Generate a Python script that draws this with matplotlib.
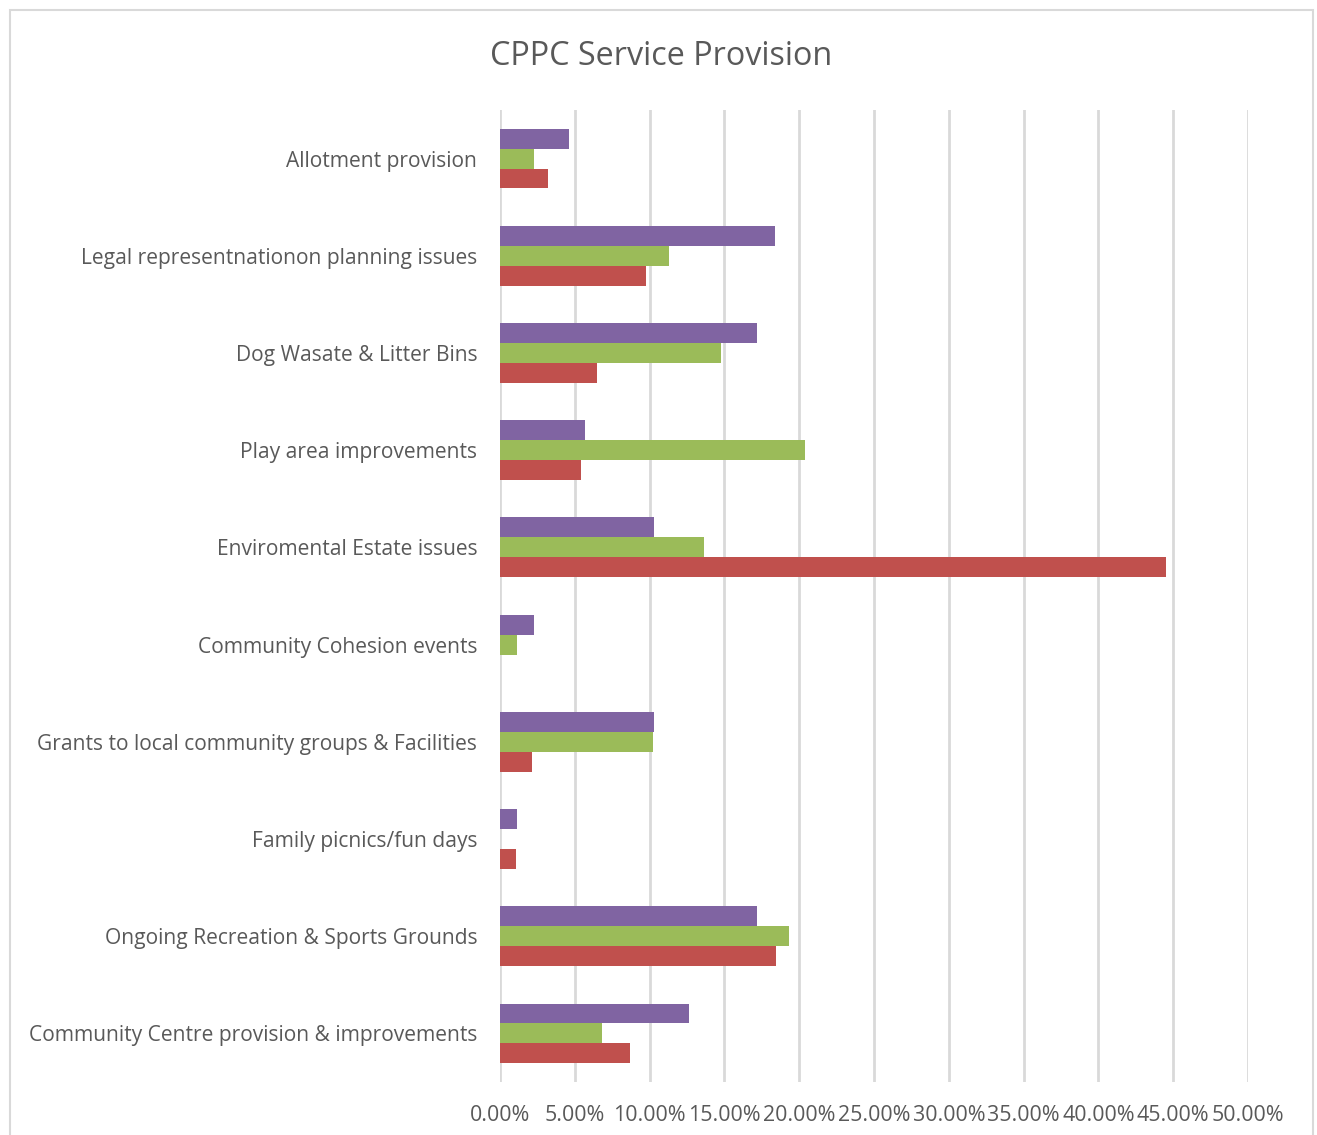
import matplotlib.pyplot as plt
import matplotlib.patches as mpatches
import numpy as np
from matplotlib.ticker import FuncFormatter, MultipleLocator

plt.rcParams['font.family'] = ['Open Sans', 'DejaVu Sans']

categories = [
    'Allotment provision',
    'Legal representnationon planning issues',
    'Dog Wasate & Litter Bins',
    'Play area improvements',
    'Enviromental Estate issues',
    'Community Cohesion events',
    'Grants to local community groups & Facilities',
    'Family picnics/fun days',
    'Ongoing Recreation & Sports Grounds',
    'Community Centre provision & improvements',
]

# share of responses per service, in percent
series_red = [3.2, 9.75, 6.5, 5.4, 44.5, 0.0, 2.15, 1.05, 18.45, 8.7]
series_green = [2.25, 11.3, 14.75, 20.4, 13.6, 1.1, 10.2, 0.0, 19.3, 6.8]
series_purple = [4.6, 18.35, 17.2, 5.7, 10.3, 2.25, 10.3, 1.1, 17.2, 12.6]

colors = ['#C0504D', '#9BBB59', '#8064A2']
text_col = '#595959'

fig = plt.figure(figsize=(13.17, 11.35), dpi=100)
ax = fig.add_axes([0.3797, 0.0467, 0.5679, 0.8564])

y = np.arange(len(categories))
h = 0.205
for i, (vals, c) in enumerate(zip([series_red, series_green, series_purple], colors)):
    ax.barh(y + (1 - i) * h, vals, height=h, color=c, linewidth=0, zorder=3)

ax.set_xlim(0, 50)
ax.set_ylim(len(categories) - 0.5, -0.5)
ax.xaxis.set_major_locator(MultipleLocator(5))
ax.xaxis.set_major_formatter(FuncFormatter(lambda v, p: f'{v:.2f}%'))
ax.grid(axis='x', color='#D9D9D9', linewidth=2, zorder=0)
ax.set_yticks(y)
ax.set_yticklabels(categories)
ax.tick_params(length=0, labelcolor=text_col)
ax.tick_params(axis='x', pad=16.5, labelsize=15.4)
ax.tick_params(axis='y', pad=16.5, labelsize=15.1)
for s in ax.spines.values():
    s.set_visible(False)

fig.text(0.502, 0.950, 'CPPC Service Provision', ha='center', va='center',
         fontsize=23.3, color=text_col)

# outer chart frame
fig.patches.append(mpatches.Rectangle((10 / 1317, -0.01), 1303 / 1317, 1 - 10 / 1135 + 0.01,
                                      transform=fig.transFigure, fill=False,
                                      edgecolor='#D9D9D9', linewidth=1.5))

fig.savefig('out.png', dpi=100)
